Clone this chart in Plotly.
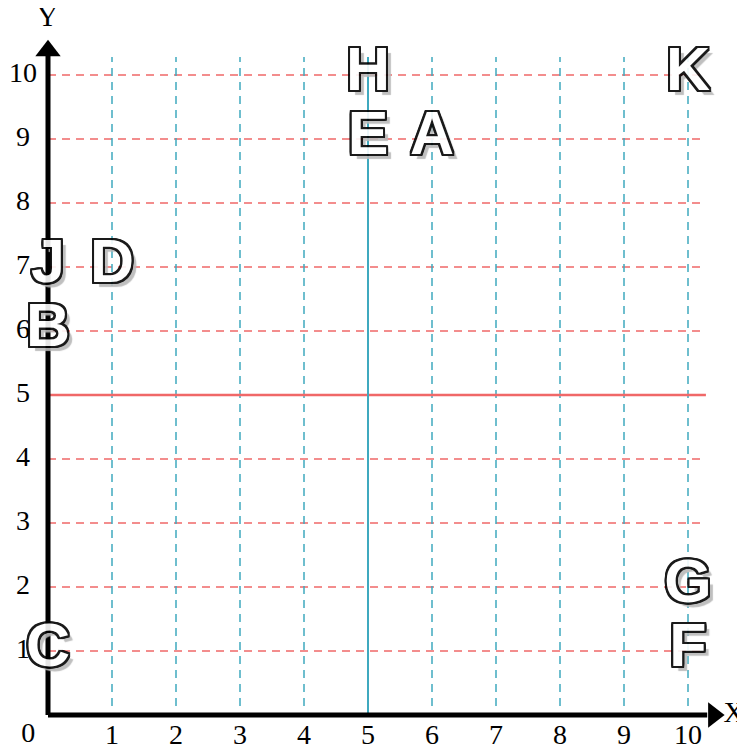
import plotly.graph_objects as go

# ---- data ----
letters = ["A", "B", "C", "D", "E", "F", "G", "H", "J", "K"]
letter_x = [6, 0, 0, 1, 5, 10, 10, 5, 0, 10]
letter_y = [9, 6, 1, 7, 9, 1, 2, 10, 7, 10]

x_ticks = [1, 2, 3, 4, 5, 6, 7, 8, 9, 10]
y_ticks = [1, 2, 3, 4, 5, 6, 7, 8, 9, 10]
x_tick_labels = ["1", "2", "3", "4", "5", "6", "7", "8", "9", "10"]
y_tick_labels = ["1", "2", "3", "4", "5", "6", "7", "8", "9", "10"]

ref_x = 5   # solid teal vertical line
ref_y = 5   # solid red horizontal line

# ---- styling ----
PAGE_OFF = 8       # default body margin of the html page
W, H = 745 - PAGE_OFF, 749 - PAGE_OFF
PX = 64.0          # pixels per unit
X0_PIX = 48.0 - PAGE_OFF   # figure pixel column of x = 0
Y0_PIX = 715.0 - PAGE_OFF  # figure pixel row of y = 0
x_range = [-X0_PIX / PX, (W - X0_PIX) / PX]
y_range = [-(H - Y0_PIX) / PX, Y0_PIX / PX]

RED = "#F06868"
TEAL = "#3FA9BF"
GRID_END = 10.28
SERIF = "Liberation Serif, Times New Roman, serif"

fig = go.Figure()

# grid lines
for v in y_ticks:
    if v == ref_y:
        continue
    fig.add_shape(type="line", xref="x", yref="y", x0=0, x1=10.2, y0=v, y1=v,
                  line=dict(color=RED, width=1.5, dash="8px,6px"), layer="below")
for v in x_ticks:
    if v == ref_x:
        continue
    fig.add_shape(type="line", xref="x", yref="y", x0=v, x1=v, y0=0.14, y1=GRID_END,
                  line=dict(color=TEAL, width=1.5, dash="8px,6px"), layer="below")

# reference lines
fig.add_shape(type="line", xref="x", yref="y", x0=0, x1=GRID_END, y0=ref_y, y1=ref_y,
              line=dict(color=RED, width=2.5), layer="below")
fig.add_shape(type="line", xref="x", yref="y", x0=ref_x, x1=ref_x, y0=0, y1=GRID_END,
              line=dict(color=TEAL, width=2), layer="below")

# axes lines
fig.add_shape(type="line", xref="x", yref="y", x0=0, x1=0, y0=0, y1=10.3,
              line=dict(color="black", width=5), layer="below")
fig.add_shape(type="line", xref="x", yref="y", x0=0, x1=10.3, y0=0, y1=0,
              line=dict(color="black", width=5), layer="below")

# arrow heads
fig.add_trace(go.Scatter(x=[0], y=[10.38], mode="markers",
                         marker=dict(symbol="triangle-up", size=22, color="black"),
                         hoverinfo="skip", showlegend=False))
fig.add_trace(go.Scatter(x=[10.4], y=[0], mode="markers",
                         marker=dict(symbol="triangle-right", size=22, color="black"),
                         hoverinfo="skip", showlegend=False))

# tick labels
fig.add_trace(go.Scatter(x=x_ticks, y=[-0.34] * len(x_ticks), mode="text",
                         text=x_tick_labels, textposition="middle center",
                         textfont=dict(family=SERIF, size=28, color="black"),
                         hoverinfo="skip", showlegend=False, cliponaxis=False))
fig.add_trace(go.Scatter(x=[-0.39] * len(y_ticks), y=y_ticks, mode="text",
                         text=y_tick_labels, textposition="middle center",
                         textfont=dict(family=SERIF, size=28, color="black"),
                         hoverinfo="skip", showlegend=False, cliponaxis=False))
fig.add_trace(go.Scatter(x=[-0.31], y=[-0.31], mode="text", text=["0"],
                         textposition="middle center",
                         textfont=dict(family=SERIF, size=28, color="black"),
                         hoverinfo="skip", showlegend=False, cliponaxis=False))

# axis titles
fig.add_trace(go.Scatter(x=[-0.01], y=[10.88], mode="text", text=["Y"],
                         textposition="middle center",
                         textfont=dict(family=SERIF, size=29, color="black"),
                         hoverinfo="skip", showlegend=False, cliponaxis=False))
fig.add_trace(go.Scatter(x=[10.72], y=[0], mode="text", text=["X"],
                         textposition="middle center",
                         textfont=dict(family=SERIF, size=29, color="black"),
                         hoverinfo="skip", showlegend=False, cliponaxis=False))

# letters
offsets = [(-2, -2), (-2, 0), (-2, 2), (0, -2), (0, 2), (2, -2), (2, 0), (2, 2),
           (-1, -2), (1, -2), (-1, 2), (1, 2), (-2, -1), (-2, 1), (2, -1), (2, 1)]
shadow = ", ".join(f"{dx}px {dy}px 0 #000" for dx, dy in offsets)
shadow += ", 5px 5px 1px #b8b8b8"
fig.add_trace(go.Scatter(x=letter_x, y=letter_y, mode="text", text=letters,
                         textposition="middle center", opacity=0.9,
                         textfont=dict(family="Liberation Sans, Arial, sans-serif",
                                       size=61, color="white", weight="bold",
                                       shadow=shadow),
                         hoverinfo="skip", showlegend=False, cliponaxis=False))

fig.update_layout(
    width=W, height=H,
    margin=dict(l=0, r=0, t=0, b=0),
    paper_bgcolor="white", plot_bgcolor="white",
    xaxis=dict(range=x_range, visible=False, fixedrange=True),
    yaxis=dict(range=y_range, visible=False, fixedrange=True),
    showlegend=False,
)

fig.write_html("out.html")
